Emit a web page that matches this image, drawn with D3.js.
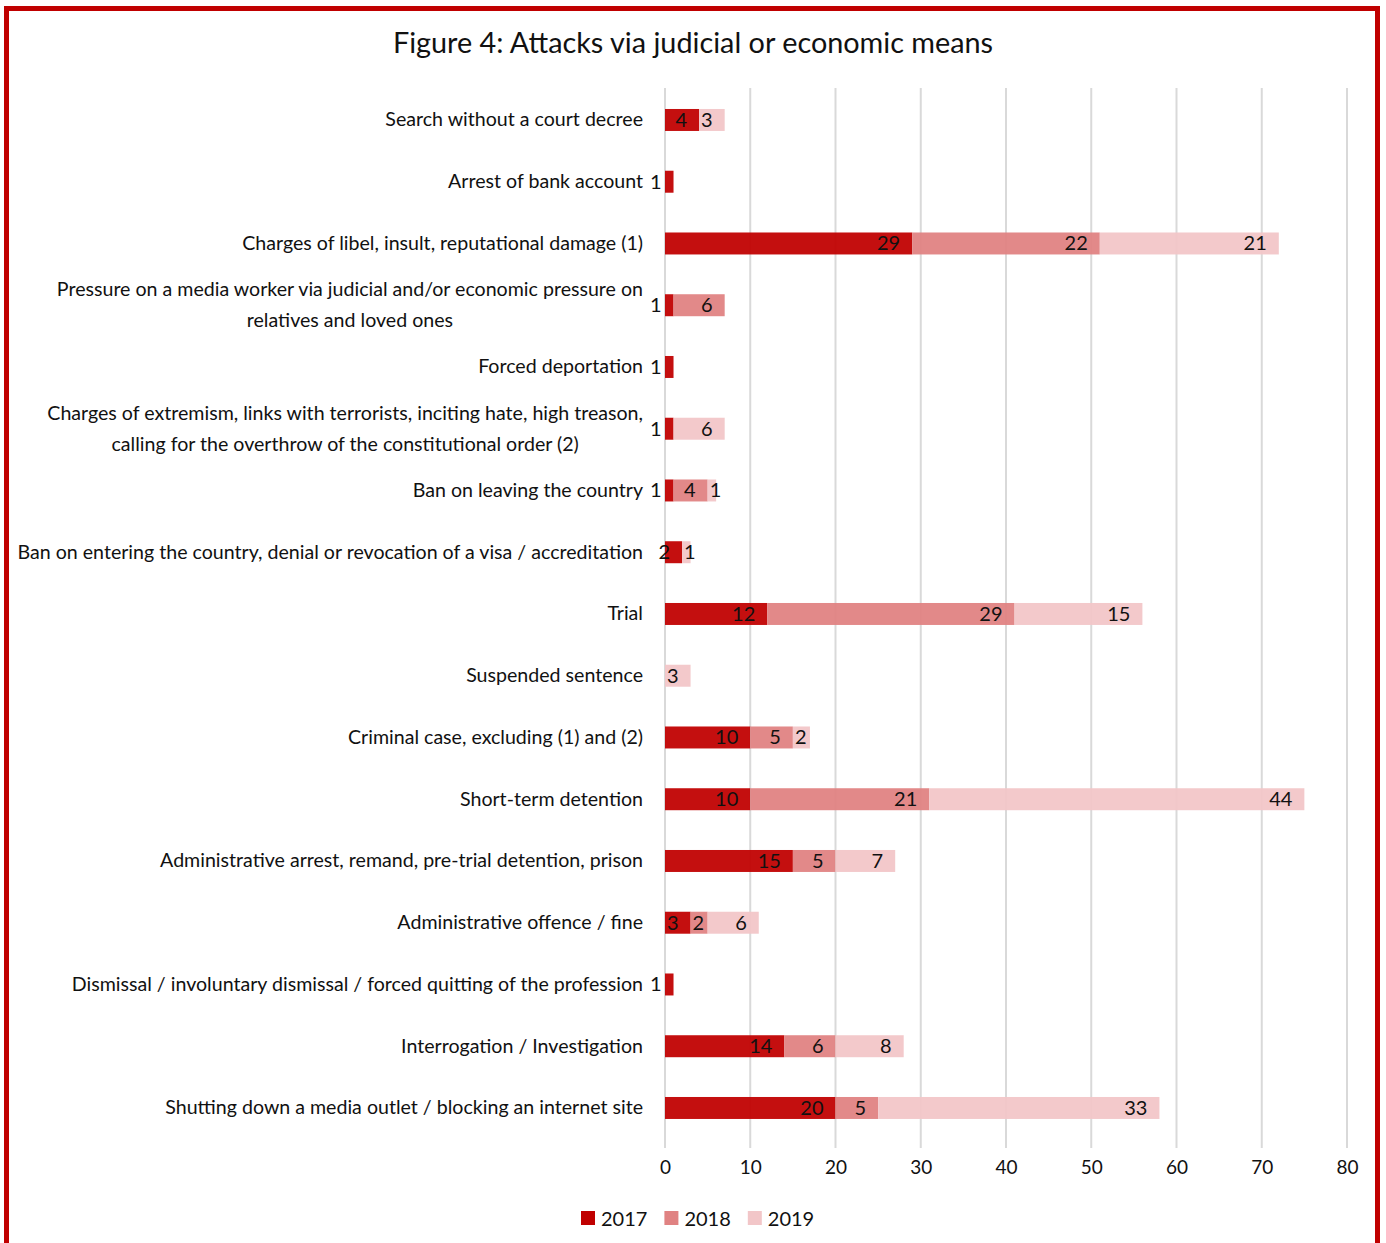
<!DOCTYPE html>
<html>
<head>
<meta charset="utf-8">
<script src="https://cdn.jsdelivr.net/npm/d3@7"></script>
<style>
  html, body { margin: 0; padding: 0; background: #fff; }
  svg { display: block; font-family: Lato, "Open Sans", sans-serif; }
</style>
</head>
<body>
<svg id="chart" width="1386" height="1243"></svg>
<script>
// Categories, top to bottom; a "\n" marks a wrapped label line.
const categories = [
  "Search without a court decree",
  "Arrest of bank account",
  "Charges of libel, insult, reputational damage (1)",
  "Pressure on a media worker via judicial and/or economic pressure on\nrelatives and loved ones",
  "Forced deportation",
  "Charges of extremism, links with terrorists, inciting hate, high treason,\ncalling for the overthrow of the constitutional order (2)",
  "Ban on leaving the country",
  "Ban on entering the country, denial or revocation of a visa / accreditation",
  "Trial",
  "Suspended sentence",
  "Criminal case, excluding (1) and (2)",
  "Short-term detention",
  "Administrative arrest, remand, pre-trial detention, prison",
  "Administrative offence / fine",
  "Dismissal / involuntary dismissal / forced quitting of the profession",
  "Interrogation / Investigation",
  "Shutting down a media outlet / blocking an internet site"
];
const seriesNames = ["2017", "2018", "2019"];
const values2017 = [4, 1, 29, 1, 1, 1, 1, 2, 12, 0, 10, 10, 15, 3, 1, 14, 20];
const values2018 = [0, 0, 22, 6, 0, 0, 4, 0, 29, 0, 5, 21, 5, 2, 0, 6, 5];
const values2019 = [3, 0, 21, 0, 0, 6, 1, 1, 15, 3, 2, 44, 7, 6, 0, 8, 33];
const xTicks = [0, 10, 20, 30, 40, 50, 60, 70, 80];
const titleText = "Figure 4: Attacks via judicial or economic means";

const colors = ["#C00000", "#E08282", "#F2C6C8"];

const svg = d3.select("#chart");

// Red frame around the figure (runs off the bottom edge)
svg.append("rect")
  .attr("x", 6.5).attr("y", 8.5)
  .attr("width", 1371).attr("height", 1260)
  .attr("fill", "none")
  .attr("stroke", "#C00000")
  .attr("stroke-width", 5);

svg.append("text")
  .attr("x", 693).attr("y", 53)
  .attr("text-anchor", "middle")
  .attr("font-size", 28.8)
  .attr("fill", "#111")
  .text(titleText);

const x = d3.scaleLinear().domain([0, 80]).range([665, 1347]);
const y = d3.scaleBand().domain(categories)
  .range([89.1, 1138.85])
  .paddingInner(0.644).paddingOuter(0.322);

// Vertical gridlines
svg.append("g").selectAll("line").data(xTicks).join("line")
  .attr("x1", d => x(d)).attr("x2", d => x(d))
  .attr("y1", 88).attr("y2", 1148)
  .attr("stroke", "#D9D9D9").attr("stroke-width", 2);

// Tick labels
const xAxis = d3.axisBottom(x).tickValues(xTicks).tickSize(0).tickPadding(0);
const gx = svg.append("g").attr("transform", "translate(0,1160)").call(xAxis);
gx.select(".domain").remove();
gx.selectAll("text")
  .attr("font-family", "Lato, sans-serif")
  .attr("font-size", 19)
  .attr("fill", "#111")
  .attr("dy", "0.71em")
  .attr("y", 0);

// Stack the three years
const rows = categories.map((c, i) => ({
  cat: c, "2017": values2017[i], "2018": values2018[i], "2019": values2019[i]
}));
const stack = d3.stack().keys(seriesNames)(rows);

const barG = svg.append("g");
const labelG = svg.append("g");
stack.forEach((layer, si) => {
  layer.forEach((seg, i) => {
    const v = seg[1] - seg[0];
    if (v <= 0) return;
    const cat = categories[i];
    const x0 = x(seg[0]), x1 = x(seg[1]);
    barG.append("rect")
      .attr("x", x0).attr("y", y(cat))
      .attr("width", x1 - x0).attr("height", y.bandwidth())
      .attr("fill", colors[si])
      .attr("fill-opacity", 0.94);
    const t = labelG.append("text")
      .attr("y", y(cat) + y.bandwidth() / 2 + 7)
      .attr("font-size", 20)
      .attr("fill", "#111")
      .attr("text-anchor", "end")
      .text(v);
    const w = t.node().getComputedTextLength();
    let xr = x1 - 12;
    if (si > 0) xr = Math.max(xr, x0 + 2 + w);
    t.attr("x", xr);
  });
});

// Category labels (right aligned block, wrapped lines centred within it)
const catG = svg.append("g");
categories.forEach(c => {
  const lines = c.split("\n");
  const cy = y(c) + y.bandwidth() / 2;
  const g = catG.append("g");
  const texts = lines.map((ln, k) => g.append("text")
    .attr("font-size", 19.6)
    .attr("fill", "#111")
    .attr("y", cy + 6.5 + (k - (lines.length - 1) / 2) * 31)
    .text(ln));
  const widths = texts.map(t => t.node().getComputedTextLength());
  const maxW = d3.max(widths);
  const right = 643;
  const center = right - maxW / 2;
  texts.forEach(t => t.attr("x", center).attr("text-anchor", "middle"));
});

// Legend
const legend = svg.append("g");
let lx = 581;
seriesNames.forEach((name, si) => {
  legend.append("rect")
    .attr("x", lx).attr("y", 1211)
    .attr("width", 14).attr("height", 14)
    .attr("fill", colors[si]);
  const t = legend.append("text")
    .attr("x", lx + 20).attr("y", 1226)
    .attr("font-size", 20)
    .attr("fill", "#111")
    .text(name);
  lx += 20 + t.node().getComputedTextLength() + 17;
});
</script>
</body>
</html>
